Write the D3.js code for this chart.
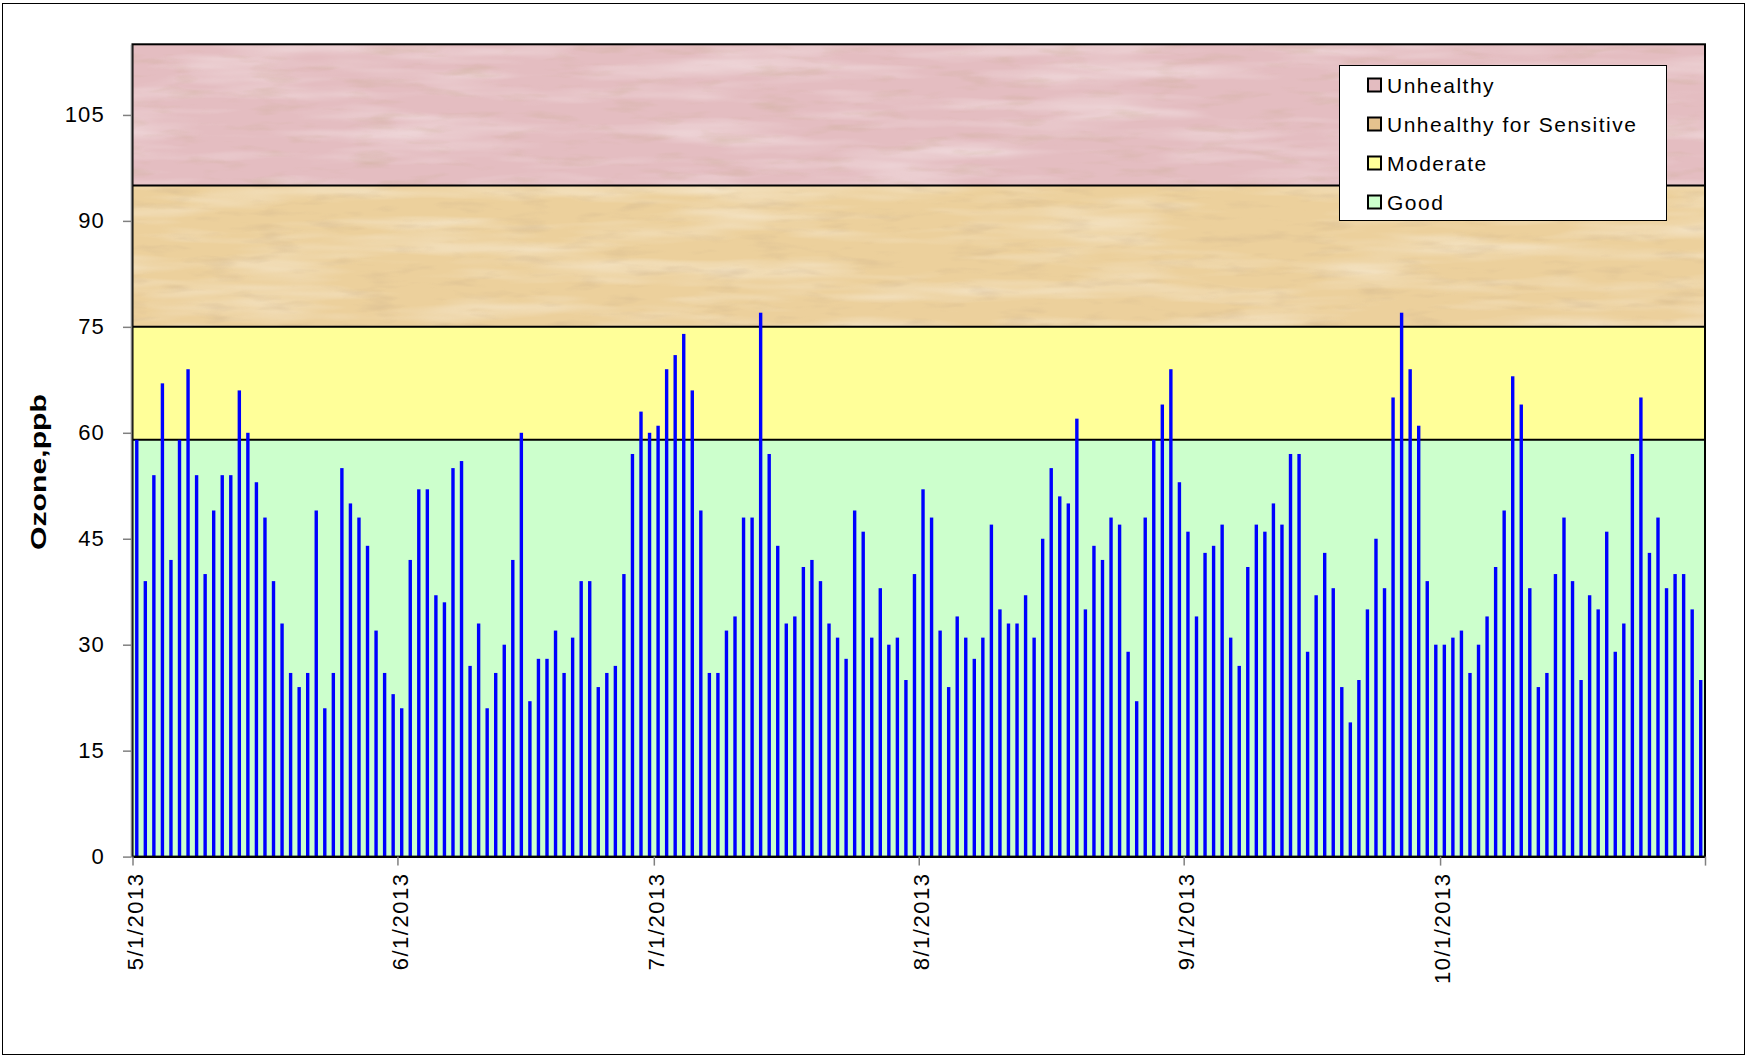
<!DOCTYPE html>
<html>
<head>
<meta charset="utf-8">
<script src="https://cdn.jsdelivr.net/npm/d3@7"></script>
<style>
  html, body { margin: 0; padding: 0; background: #fff; }
  svg { display: block; font-family: Arial, "Liberation Sans", sans-serif; }
</style>
</head>
<body>
<div id="chart"></div>
<script>
// ***** data *****
const startDay = new Date(2013, 4, 1);
const endDay = new Date(2013, 10, 1); // axis ends at 11/1 (exclusive)

// daily ozone, ppb (5/1 .. 10/31)
const mayValues = [59, 39, 54, 67, 42, 59, 69, 54, 40, 49, 54, 54, 66, 60, 53, 48, 39, 33, 26, 24, 26, 49, 21, 26, 55, 50, 48, 44, 32, 26, 23];
const junValues = [21, 42, 52, 52, 37, 36, 55, 56, 27, 33, 21, 26, 30, 42, 60, 22, 28, 28, 32, 26, 31, 39, 39, 24, 26, 27, 40, 57, 63, 60];
const julValues = [61, 69, 71, 74, 66, 49, 26, 26, 32, 34, 48, 48, 77, 57, 44, 33, 34, 41, 42, 39, 33, 31, 28, 49, 46, 31, 38, 30, 31, 25, 40];
const augValues = [52, 48, 32, 24, 34, 31, 28, 31, 47, 35, 33, 33, 37, 31, 45, 55, 51, 50, 62, 35, 44, 42, 48, 47, 29, 22, 48, 59, 64, 69, 53];
const sepValues = [46, 34, 43, 44, 47, 31, 27, 41, 47, 46, 50, 47, 57, 57, 29, 37, 43, 38, 24, 19, 25, 35, 45, 38, 65, 77, 69, 61, 39, 30];
const octValues = [30, 31, 32, 26, 30, 34, 41, 49, 68, 64, 38, 24, 26, 40, 48, 39, 25, 37, 35, 46, 29, 33, 57, 65, 43, 48, 38, 40, 40, 35, 25];

// AQI bands
const bandNames = ['Good', 'Moderate', 'Unhealthy for Sensitive', 'Unhealthy'];
const bandLow = [0, 59, 75, 95];
const bandHigh = [59, 75, 95, 115];

const yTicks = [0, 15, 30, 45, 60, 75, 90, 105];
const yTitle = 'Ozone,ppb';

// ***** layout *****
const width = 1749;
const height = 1059;
const plot = { left: 132.5, right: 1705, top: 44.3, bottom: 856.6 };
const bandColors = ['#ccffcc', '#ffff99', '#ecd09c', '#e4bdc1'];
const legendColors = ['#ccffcc', '#ffff99', '#e4c28e', '#e3bcc0'];

const values = [].concat(mayValues, junValues, julValues, augValues, sepValues, octValues);
const days = d3.timeDay.range(startDay, endDay);
const data = days.map((d, i) => ({ date: d, value: values[i] }));

const x = d3.scaleTime().domain([startDay, endDay]).range([plot.left, plot.right]);
const y = d3.scaleLinear().domain([0, 115]).range([plot.bottom, plot.top]);
const dayW = x(d3.timeDay.offset(startDay, 1)) - x(startDay);
const barW = 3.4;

const svg = d3.select('#chart').append('svg')
  .attr('width', width)
  .attr('height', height);

// chart frame
svg.append('rect')
  .attr('x', 2.5).attr('y', 3.5)
  .attr('width', 1742).attr('height', 1051)
  .attr('fill', '#fff')
  .attr('stroke', '#000')
  .attr('stroke-width', 1);

// textures for the upper bands
const defs = svg.append('defs');
function grain(id, freq, seed, rgb, slope, cut) {
  const f = defs.append('filter').attr('id', id)
    .attr('x', 0).attr('y', 0).attr('width', 1).attr('height', 1);
  f.append('feTurbulence')
    .attr('type', 'fractalNoise')
    .attr('baseFrequency', freq)
    .attr('numOctaves', 3)
    .attr('seed', seed);
  f.append('feColorMatrix')
    .attr('type', 'matrix')
    .attr('values', `0 0 0 0 ${rgb[0]}  0 0 0 0 ${rgb[1]}  0 0 0 0 ${rgb[2]}  ${slope} 0 0 0 ${cut}`);
}
grain('lightGrain', '0.006 0.05', 3, [1, 1, 1], 1.6, -0.7);
grain('darkGrain', '0.02 0.09', 8, [0.55, 0.4, 0.25], 1.4, -0.75);

// bands
const bands = svg.append('g').attr('class', 'bands');
bands.selectAll('rect.band')
  .data(bandNames)
  .enter()
  .append('rect')
  .attr('class', 'band')
  .attr('x', plot.left)
  .attr('width', plot.right - plot.left)
  .attr('y', (d, i) => y(bandHigh[i]))
  .attr('height', (d, i) => y(bandLow[i]) - y(bandHigh[i]))
  .attr('fill', (d, i) => bandColors[i]);

[2, 3].forEach((i) => {
  ['lightGrain', 'darkGrain'].forEach((fid) => {
    bands.append('rect')
      .attr('x', plot.left)
      .attr('width', plot.right - plot.left)
      .attr('y', y(bandHigh[i]))
      .attr('height', y(bandLow[i]) - y(bandHigh[i]))
      .attr('fill', '#000')
      .attr('filter', `url(#${fid})`)
      .attr('opacity', 0.55);
  });
});

// band boundaries
bands.selectAll('line.edge')
  .data(bandHigh.slice(0, 3))
  .enter()
  .append('line')
  .attr('class', 'edge')
  .attr('x1', plot.left).attr('x2', plot.right)
  .attr('y1', (d) => y(d)).attr('y2', (d) => y(d))
  .attr('stroke', '#000')
  .attr('stroke-width', 2);

// bars
svg.append('g').attr('class', 'bars')
  .selectAll('rect')
  .data(data)
  .enter()
  .append('rect')
  .attr('x', (d) => x(d.date) + dayW / 2 - barW / 2)
  .attr('width', barW)
  .attr('y', (d) => y(d.value))
  .attr('height', (d) => y(0) - y(d.value))
  .attr('fill', '#0000ff');

// plot border
svg.append('rect')
  .attr('x', plot.left).attr('y', plot.top)
  .attr('width', plot.right - plot.left)
  .attr('height', plot.bottom - plot.top)
  .attr('fill', 'none')
  .attr('stroke', '#000')
  .attr('stroke-width', 2);

// y axis
const yAxis = svg.append('g')
  .attr('transform', `translate(${plot.left - 1.5},0)`)
  .call(d3.axisLeft(y).tickValues(yTicks).tickSize(8).tickPadding(18).tickSizeOuter(0));
yAxis.select('.domain').attr('stroke', '#808080').attr('stroke-width', 1.5);
yAxis.selectAll('.tick line').attr('stroke', '#808080').attr('stroke-width', 1.5);
yAxis.selectAll('.tick text')
  .attr('font-family', 'Arial, "Liberation Sans", sans-serif')
  .attr('font-size', 22)
  .attr('letter-spacing', 1.2)
  .attr('fill', '#000');

// x axis
const monthTicks = d3.timeMonth.range(startDay, d3.timeDay.offset(endDay, 1));
const xAxis = svg.append('g')
  .attr('transform', `translate(0,${plot.bottom})`)
  .call(d3.axisBottom(x).tickValues(monthTicks).tickSize(9).tickSizeOuter(0)
    .tickFormat((d) => (d < endDay ? d3.timeFormat('%-m/%-d/%Y')(d) : '')));
xAxis.select('.domain').attr('stroke', '#000').attr('stroke-width', 2);
xAxis.selectAll('.tick line').attr('stroke', '#808080').attr('stroke-width', 1.5);
xAxis.selectAll('.tick text')
  .attr('font-family', 'Arial, "Liberation Sans", sans-serif')
  .attr('font-size', 22)
  .attr('letter-spacing', 1.5)
  .attr('fill', '#000')
  .attr('text-anchor', 'end')
  .attr('transform', 'rotate(-90)')
  .attr('x', -16)
  .attr('y', 0)
  .attr('dy', '0.45em');

// y title
svg.append('text')
  .attr('transform', `translate(46,${472}) rotate(-90)`)
  .attr('text-anchor', 'middle')
  .attr('font-size', 22)
  .attr('font-weight', 'bold')
  .attr('textLength', 156)
  .attr('lengthAdjust', 'spacingAndGlyphs')
  .text(yTitle);

// legend
const legend = svg.append('g').attr('class', 'legend');
legend.append('rect')
  .attr('x', 1339.5).attr('y', 65.5)
  .attr('width', 327).attr('height', 155)
  .attr('fill', '#fff')
  .attr('stroke', '#000')
  .attr('stroke-width', 1);

const legendOrder = [3, 2, 1, 0];
const items = legend.selectAll('g.item')
  .data(legendOrder)
  .enter()
  .append('g')
  .attr('class', 'item')
  .attr('transform', (d, i) => `translate(1368,${85 + i * 39})`);
items.append('rect')
  .attr('x', 0).attr('y', -6.5)
  .attr('width', 13).attr('height', 13)
  .attr('fill', (d) => legendColors[d])
  .attr('stroke', '#000')
  .attr('stroke-width', 2);
items.append('text')
  .attr('x', 19)
  .attr('y', 7.5)
  .attr('font-size', 21)
  .attr('letter-spacing', 1.5)
  .text((d) => bandNames[d]);
</script>
</body>
</html>
